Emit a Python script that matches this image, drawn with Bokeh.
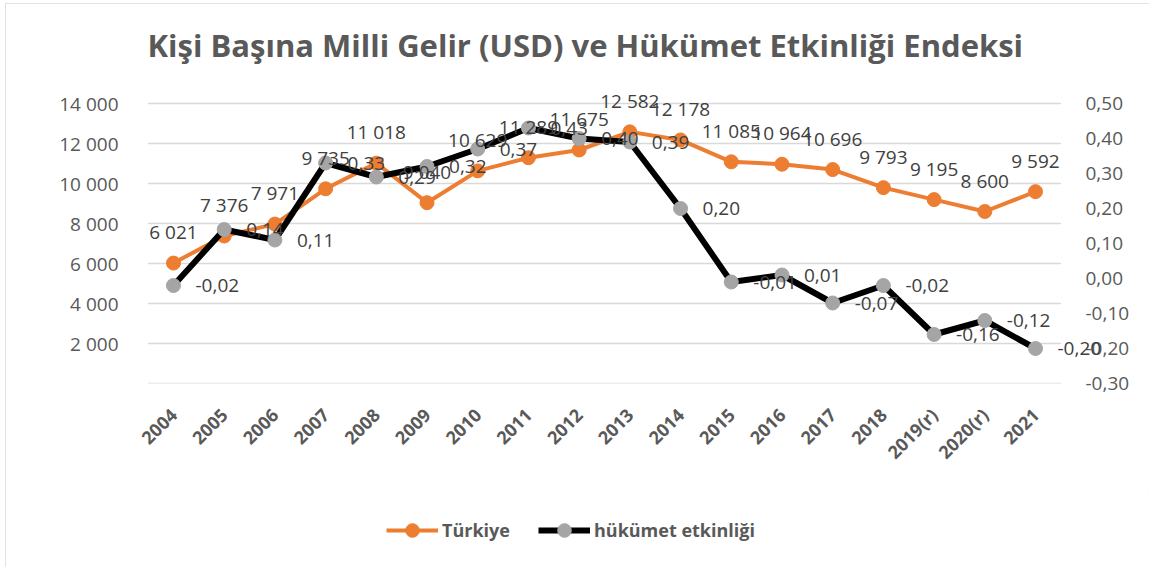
from bokeh.plotting import figure
from bokeh.models import (ColumnDataSource, Range1d, LinearAxis, FixedTicker,
                          CustomJSTickFormatter, LabelSet, Legend, LegendItem, FactorRange)
from bokeh.layouts import column
from bokeh.core.properties import value
from bokeh.transform import dodge
from bokeh.embed import file_html
from bokeh.resources import INLINE
import math

# ---- data ----
years = ["2004", "2005", "2006", "2007", "2008", "2009", "2010", "2011", "2012",
         "2013", "2014", "2015", "2016", "2017", "2018", "2019(r)", "2020(r)", "2021"]
turkiye = [6021, 7376, 7971, 9735, 11018, 9040, 10629, 11289, 11675,
           12582, 12178, 11085, 10964, 10696, 9793, 9195, 8600, 9592]
hukumet = [-0.02, 0.14, 0.11, 0.33, 0.29, 0.32, 0.37, 0.43, 0.40,
           0.39, 0.20, -0.01, 0.01, -0.07, -0.02, -0.16, -0.12, -0.20]
left_ticks = [0, 2000, 4000, 6000, 8000, 10000, 12000, 14000]
left_labels = ["", "2 000", "4 000", "6 000", "8 000", "10 000", "12 000", "14 000"]
right_ticks = [-0.3, -0.2, -0.1, 0.0, 0.1, 0.2, 0.3, 0.4, 0.5]

title_text = "Kişi Başına Milli Gelir (USD) ve Hükümet Etkinliği Endeksi"
series_names = ["Türkiye", "hükümet etkinliği"]

FONT = "Open Sans"
ORANGE = "#ED7D31"
GRAY = "#A5A5A5"
TXT = "#595959"
LBL = "#404040"

src = ColumnDataSource(dict(
    x=years,
    t=turkiye,
    h=hukumet,
    tl=[f"{v:,}".replace(",", " ") for v in turkiye],
    hl=[f"{v:.2f}".replace(".", ",") for v in hukumet],
))
grid_src = ColumnDataSource(dict(
    x0=[years[0]] * len(left_ticks),
    x1=[years[-1]] * len(left_ticks),
    y=left_ticks,
))

PAD = 0.9  # extra category widths on each side so data labels are not clipped
p = figure(x_range=FactorRange(*years, range_padding=PAD, range_padding_units="absolute"),
           y_range=Range1d(0, 15000),
           frame_width=1004, frame_height=300,
           min_border_left=97, min_border_right=43,
           min_border_top=80, min_border_bottom=110,
           output_backend="svg", toolbar_location=None,
           title=title_text)
p.extra_y_ranges = {"gov": Range1d(-0.30, 0.50 + 0.1 * 20 / 35)}

# title
p.title.text_font = FONT
p.title.text_font_size = "31px"
p.title.text_font_style = "bold"
p.title.text_color = TXT
p.title.align = "left"
p.title.offset = 45
p.title.standoff = 36

p.outline_line_color = None
p.background_fill_color = "white"
p.border_fill_color = "white"

# grid (drawn over the category span only)
p.xgrid.grid_line_color = None
p.ygrid.grid_line_color = None
p.segment(x0=dodge("x0", -0.5, range=p.x_range), x1=dodge("x1", 0.5, range=p.x_range),
          y0="y", y1="y", source=grid_src, line_color="#d9d9d9", line_width=1.3)

# left axis
la = p.yaxis[0]
la.ticker = FixedTicker(ticks=left_ticks)
la.major_label_overrides = {t: l for t, l in zip(left_ticks, left_labels)}
la.axis_line_color = None
la.major_tick_line_color = None
la.minor_tick_line_color = None
la.major_label_text_font = FONT
la.major_label_text_font_size = "19px"
la.major_label_text_color = TXT
la.major_label_standoff = -22

# right axis
ra = LinearAxis(y_range_name="gov", ticker=FixedTicker(ticks=right_ticks),
                formatter=CustomJSTickFormatter(code="return tick.toFixed(2).replace('.', ',');"))
ra.axis_line_color = None
ra.major_tick_line_color = None
ra.minor_tick_line_color = None
ra.major_label_text_font = FONT
ra.major_label_text_font_size = "19px"
ra.major_label_text_color = TXT
ra.major_label_standoff = -27
p.add_layout(ra, "right")

# x axis
xa = p.xaxis[0]
xa.axis_line_color = None
xa.major_tick_line_color = None
xa.minor_tick_line_color = None
xa.major_tick_out = 0
xa.major_label_orientation = math.pi / 4
xa.major_label_text_font = FONT
xa.major_label_text_font_size = "18px"
xa.major_label_text_font_style = "bold"
xa.major_label_text_color = TXT
xa.major_label_standoff = 28

# series
l1 = p.line("x", "t", source=src, line_color=ORANGE, line_width=4, line_join="round")
s1 = p.scatter("x", "t", source=src, marker="circle", size=14,
               fill_color=ORANGE, line_color=ORANGE)
l2 = p.line("x", "h", source=src, y_range_name="gov", line_color="black",
            line_width=6, line_join="round")
s2 = p.scatter("x", "h", source=src, y_range_name="gov", marker="circle", size=14,
               fill_color=GRAY, line_color=GRAY)

# data labels
lab1 = LabelSet(x="x", y="t", text="tl", source=src, y_offset=31,
                text_align="center", text_baseline="middle",
                text_font=value(FONT), text_font_size=value("19px"), text_color=LBL)
lab2 = LabelSet(x="x", y="h", text="hl", source=src, y_range_name="gov",
                x_offset=22, text_align="left", text_baseline="middle",
                text_font=value(FONT), text_font_size=value("19px"), text_color=LBL)
p.add_layout(lab1)
p.add_layout(lab2)

# legend strip below the chart (legend-only renderers carry no visible data)
q = figure(x_range=Range1d(0, 1), y_range=Range1d(0, 1),
           frame_width=1144, frame_height=74,
           min_border_left=0, min_border_right=0, min_border_top=0, min_border_bottom=0,
           output_backend="svg", toolbar_location=None)
q.axis.visible = False
q.grid.grid_line_color = None
q.outline_line_color = None
q.background_fill_color = "white"
q.border_fill_color = "white"
nan = float("nan")
ql1 = q.line(x=[nan], y=[nan], line_color=ORANGE, line_width=4)
qs1 = q.scatter(x=[nan], y=[nan], marker="circle", size=14,
                fill_color=ORANGE, line_color=ORANGE)
ql2 = q.line(x=[nan], y=[nan], line_color="black", line_width=6)
qs2 = q.scatter(x=[nan], y=[nan], marker="circle", size=14,
                fill_color=GRAY, line_color=GRAY)
legend = Legend(items=[LegendItem(label=series_names[0], renderers=[ql1, qs1]),
                       LegendItem(label=series_names[1], renderers=[ql2, qs2])],
                orientation="horizontal", location=(381, 20),
                glyph_width=52, glyph_height=34, label_standoff=4, spacing=28,
                padding=0, margin=0,
                label_text_font=FONT, label_text_font_size="18px",
                label_text_font_style="bold", label_text_color=TXT,
                border_line_color=None, background_fill_alpha=0)
q.add_layout(legend)

layout = column(p, q, spacing=0)
layout.styles = {"outline": "1px solid #d9d9d9", "outline-offset": "-1px",
                 "margin-left": "5px", "margin-top": "3px"}

open("out.html", "w").write(file_html(layout, INLINE))
